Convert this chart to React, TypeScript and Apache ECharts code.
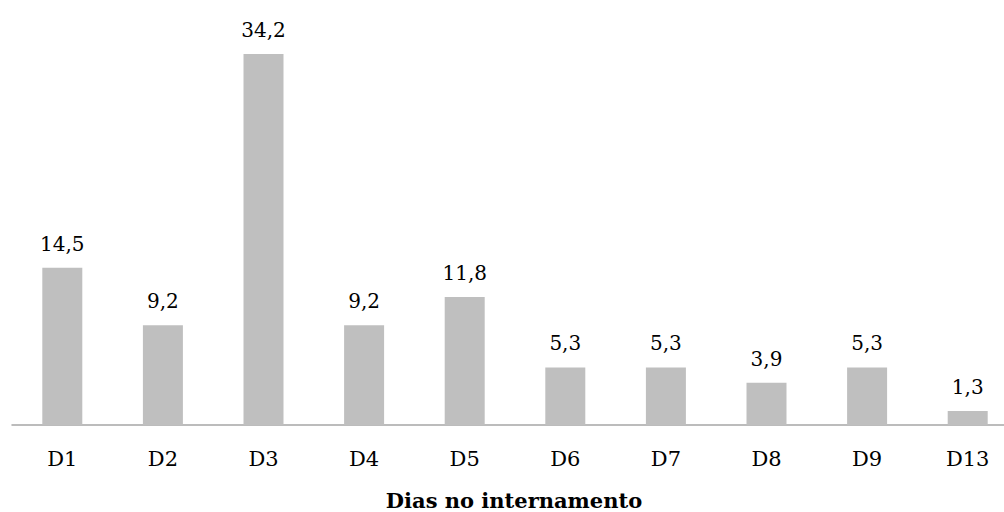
import React, { useEffect, useRef } from "react";
import * as echarts from "echarts";

const categories = ["D1", "D2", "D3", "D4", "D5", "D6", "D7", "D8", "D9", "D13"];
const values = [14.5, 9.2, 34.2, 9.2, 11.8, 5.3, 5.3, 3.9, 5.3, 1.3];
const axisTitle = "Dias no internamento";

const FONT = "'DejaVu Serif', 'Liberation Serif', serif";

export default function App() {
  const ref = useRef<HTMLDivElement>(null);
  useEffect(() => {
    const chart = echarts.init(ref.current!, null, { renderer: "svg" });
    chart.setOption({
      animation: false,
      grid: { left: 12, top: 45.25, width: 1006, height: 379.75 },
      xAxis: {
        type: "category",
        data: categories,
        axisLine: { lineStyle: { color: "#a6a6a6", width: 1.5 } },
        axisTick: { show: false },
        axisLabel: { color: "#000", fontFamily: FONT, fontSize: 21, margin: 23 },
      },
      yAxis: {
        type: "value",
        min: 0,
        max: 35,
        show: false,
        splitLine: { show: false },
      },
      graphic: [
        {
          type: "text",
          x: 514,
          y: 500,
          style: {
            text: axisTitle,
            font: `bold 21px ${FONT}`,
            lineHeight: 20,
            fill: "#000",
            align: "center",
            verticalAlign: "middle",
          },
        },
      ],
      series: [
        {
          type: "bar",
          data: values,
          barWidth: 40,
          itemStyle: { color: "#bfbfbf" },
          label: {
            show: true,
            position: "top",
            distance: 14,
            color: "#000",
            fontFamily: FONT,
            fontSize: 20,
            formatter: (p: any) => String(p.value).replace(".", ","),
          },
        },
      ],
    });
    return () => chart.dispose();
  }, []);
  return (
    <div style={{ position: "absolute", left: 0, top: 0, width: 1004, height: 512, overflow: "hidden" }}>
      <div ref={ref} style={{ width: 1030, height: 512 }} />
    </div>
  );
}
